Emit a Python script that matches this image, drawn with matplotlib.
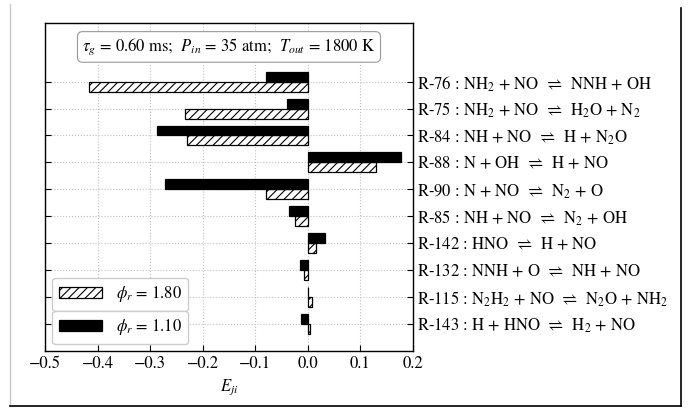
import numpy as np
import matplotlib
matplotlib.use("Agg")
import matplotlib.pyplot as plt
from matplotlib.lines import Line2D

plt.rcParams['font.family'] = ['STIXGeneral', 'DejaVu Serif']
plt.rcParams['mathtext.fontset'] = 'stix'
plt.rcParams['hatch.linewidth'] = 0.8

# reacoes (de cima para baixo)
reactions = [
    r"R-76 : NH$_2$ + NO $\,\rightleftharpoons\,$ NNH + OH",
    r"R-75 : NH$_2$ + NO $\,\rightleftharpoons\,$ H$_2$O + N$_2$",
    r"R-84 : NH + NO $\,\rightleftharpoons\,$ H + N$_2$O",
    r"R-88 : N + OH $\,\rightleftharpoons\,$ H + NO",
    r"R-90 : N + NO $\,\rightleftharpoons\,$ N$_2$ + O",
    r"R-85 : NH + NO $\,\rightleftharpoons\,$ N$_2$ + OH",
    r"R-142 : HNO $\,\rightleftharpoons\,$ H + NO",
    r"R-132 : NNH + O $\,\rightleftharpoons\,$ NH + NO",
    r"R-115 : N$_2$H$_2$ + NO $\,\rightleftharpoons\,$ N$_2$O + NH$_2$",
    r"R-143 : H + HNO $\,\rightleftharpoons\,$ H$_2$ + NO",
]
e_phi180 = [-0.4165, -0.234, -0.230, 0.1295, -0.079, -0.025, 0.0146, -0.007, 0.007, 0.0045]
e_phi110 = [-0.079, -0.039, -0.287, 0.178, -0.272, -0.036, 0.032, -0.0146, 0.0008, -0.0127]

fs = 12

fig = plt.figure(figsize=(6.89, 4.08), dpi=100)
ax = fig.add_axes([0.0653, 0.1404, 0.5341, 0.8032])

ypos = np.arange(len(reactions))[::-1]
h = 0.37
b1 = ax.barh(ypos - h / 2, e_phi180, height=h, color='white', edgecolor='black',
             hatch='////', linewidth=0.9, zorder=3)
b2 = ax.barh(ypos + h / 2, e_phi110, height=h, color='black', edgecolor='black',
             linewidth=0.9, zorder=3)

ax.set_xlim(-0.5, 0.2)
ax.set_ylim(-1, 11.18)
ax.set_xticks(np.arange(-0.5, 0.21, 0.1))
ax.set_yticks(ypos)
ax.set_yticklabels(reactions)
ax.tick_params(axis='y', left=True, right=True, labelleft=False, labelright=True,
               direction='in', length=4, pad=3, labelsize=fs)
ax.tick_params(axis='x', direction='in', length=4, labelsize=fs, pad=4)
ax.grid(True, linestyle=':', color='#c0c0c0', linewidth=0.8, zorder=0)
ax.set_axisbelow(True)
for s in ax.spines.values():
    s.set_linewidth(1.0)

ax.set_xlabel(r"$E_{ji}$", fontsize=fs, labelpad=4)

ax.text(0.5, 0.927, r"$\tau_g$ = 0.60 ms;  $P_{in}$ = 35 atm;  $T_{out}$ = 1800 K",
        transform=ax.transAxes, ha='center', va='center', fontsize=fs,
        bbox=dict(boxstyle='round,pad=0.3', facecolor='white', edgecolor='#999999',
                  linewidth=0.8), zorder=5)

leg1 = ax.legend([b1], [r"$\phi_r$ = 1.80"], loc='lower left', bbox_to_anchor=(0.02, 0.121),
                 borderaxespad=0, fontsize=fs, handlelength=2.6, handleheight=0.7,
                 fancybox=True, edgecolor='#cccccc', framealpha=1)
ax.add_artist(leg1)
ax.legend([b2], [r"$\phi_r$ = 1.10"], loc='lower left', bbox_to_anchor=(0.02, 0.02),
          borderaxespad=0, fontsize=fs, handlelength=2.6, handleheight=0.7,
          fancybox=True, edgecolor='#cccccc', framealpha=1)

# moldura da figura
fig.add_artist(Line2D([10 / 689, 10 / 689], [0.005, 0.99], color='#c8c8c8', lw=1.0))
fig.add_artist(Line2D([681 / 689, 681 / 689], [0.005, 0.98], color='black', lw=1.2))
fig.add_artist(Line2D([10 / 689, 681 / 689], [0.006, 0.006], color='black', lw=1.2))

fig.savefig('out.png', dpi=100)
